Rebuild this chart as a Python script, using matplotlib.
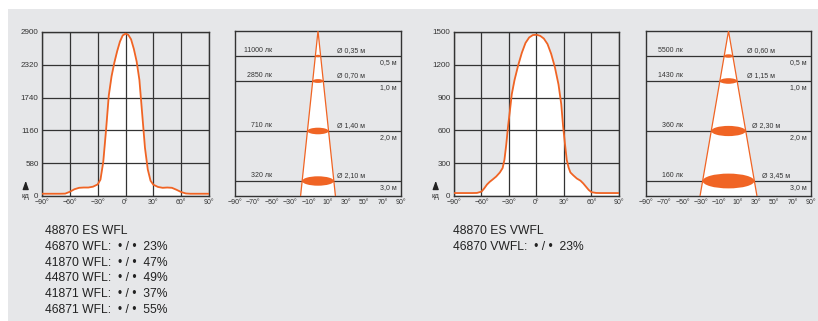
import numpy as np
import matplotlib.pyplot as plt
from matplotlib.patches import Ellipse, Polygon, Rectangle

# light intensity curves (angle in degrees, intensity in cd)
ang_wfl = [-90, -80, -70, -65, -60, -55, -50, -45, -40, -35, -30, -27, -24, -21, -18, -15, -12, -9, -6, -3, 0,
           3, 6, 9, 12, 15, 18, 21, 24, 27, 30, 35, 40, 45, 50, 55, 60, 65, 70, 80, 90]
cd_wfl = [40, 40, 40, 42, 75, 120, 145, 150, 150, 165, 205, 290, 600, 1160, 1780, 2120, 2360, 2560, 2730, 2840, 2870,
          2850, 2770, 2600, 2380, 2050, 1450, 850, 470, 270, 200, 160, 145, 150, 145, 110, 70, 45, 40, 40, 40]

ang_vwfl = [-90, -80, -70, -65, -60, -57, -54, -51, -48, -44, -40, -37, -35, -33, -31, -29, -27, -24, -20, -16, -12,
            -8, -4, 0, 4, 8, 12, 16, 20, 24, 27, 29, 31, 33, 35, 37, 40, 44, 48, 51, 54, 57, 60, 65, 70, 80, 90]
cd_vwfl = [27, 27, 27, 28, 40, 70, 105, 130, 150, 178, 215, 255, 330, 470, 640, 780, 930, 1060, 1195, 1310, 1400,
           1450, 1472, 1475, 1465, 1440, 1390, 1300, 1180, 1020, 840, 640, 480, 330, 260, 215, 190, 160, 140, 115,
           85, 55, 35, 28, 27, 27, 27]

yticks_wfl = [0, 580, 1160, 1740, 2320, 2900]
yticks_vwfl = [0, 300, 600, 900, 1200, 1500]
xticks_curve = [-90, -60, -30, 0, 30, 60, 90]

# cone diagrams
dist = [0.5, 1.0, 2.0, 3.0]
lux_wfl = [11000, 2850, 710, 320]
diam_wfl = [0.35, 0.70, 1.40, 2.10]
lux_vwfl = [5500, 1430, 360, 160]
diam_vwfl = [0.60, 1.15, 2.30, 3.45]
cone_xlabels = ['\u221290\u00b0', '\u221270\u00b0', '\u221250\u00b0', '\u221230\u00b0', '\u221210\u00b0',
                '10\u00b0', '30\u00b0', '50\u00b0', '70\u00b0', '90\u00b0']

text_wfl = ['48870 ES WFL', '46870 WFL:  \u2022 / \u2022  23%', '41870 WFL:  \u2022 / \u2022  47%',
            '44870 WFL:  \u2022 / \u2022  49%', '41871 WFL:  \u2022 / \u2022  37%', '46871 WFL:  \u2022 / \u2022  55%']
text_vwfl = ['48870 ES VWFL', '46870 VWFL:  \u2022 / \u2022  23%']

ORANGE = '#f06424'
BG = '#e6e7e9'
LINE = '#333333'
NARROW = ['Liberation Sans Narrow', 'Liberation Sans', 'DejaVu Sans']
plt.rcParams['font.family'] = ['Liberation Sans', 'DejaVu Sans']

W, H = 818, 321
fig = plt.figure(figsize=(W / 100, H / 100), dpi=100, facecolor='white')
fig.patches.append(Rectangle((8 / W, 0), 1, (H - 9) / H, transform=fig.transFigure,
                             facecolor=BG, edgecolor='none', zorder=-10))


def box(x0, x1, y0, y1):
    return [x0 / W, 1 - y1 / H, (x1 - x0) / W, (y1 - y0) / H]


def style(ax):
    ax.set_facecolor(BG)
    for s in ax.spines.values():
        s.set_color(LINE)
        s.set_linewidth(1.0)
    ax.tick_params(length=0, pad=2.5, colors='#333333')
    ax.tick_params(axis='x', labelsize=5)
    ax.tick_params(axis='y', labelsize=5.8)
    for lab in ax.get_xticklabels() + ax.get_yticklabels():
        lab.set_family(NARROW)


def curve(rect, ang, cd, yticks, arrow_x):
    ax = fig.add_axes(rect)
    ax.fill_between(ang, 0, cd, color='white', lw=0, zorder=1)
    ax.plot(ang, cd, color=ORANGE, lw=1.3, zorder=3)
    ax.set_xlim(-90, 90)
    ax.set_ylim(0, yticks[-1])
    ax.set_xticks(xticks_curve)
    ax.set_xticklabels([(('\u2212' if t < 0 else '') + '%d\u00b0' % abs(t)) for t in xticks_curve])
    ax.set_yticks(yticks)
    ax.grid(True, color=LINE, lw=0.9, zorder=2)
    style(ax)
    fig.text(arrow_x / W, 1 - 197 / H, '\u043a\u0434', fontsize=5.5, family=NARROW, ha='center', va='center',
             color='#333333')
    ax.annotate('', xy=(arrow_x / W, 1 - 178 / H), xytext=(arrow_x / W, 1 - 191 / H),
                xycoords='figure fraction', textcoords='figure fraction',
                arrowprops=dict(arrowstyle='-|>,head_length=0.5,head_width=0.18', color='#222222', lw=0.9))
    return ax


def fmt(v, nd):
    return ('%.*f' % (nd, v)).replace('.', ',')


def cone(rect, lux, diam, dx_right):
    ax = fig.add_axes(rect)
    xmax = 5.5
    ymax = 3.3
    ax.set_xlim(-xmax, xmax)
    ax.set_ylim(ymax, 0)
    k = diam[-1] / dist[-1] / 2
    ax.add_patch(Polygon([(0, 0), (-k * ymax, ymax), (k * ymax, ymax)], closed=True,
                         facecolor='white', edgecolor='none', zorder=1))
    ax.plot([-k * ymax, 0, k * ymax], [ymax, 0, ymax], color=ORANGE, lw=0.9, zorder=3)
    for i, d in enumerate(dist):
        ax.axhline(d, color=LINE, lw=0.9, zorder=2)
        ax.add_patch(Ellipse((0, d), diam[i], 0.08 * diam[i] + 0.02, facecolor=ORANGE,
                             edgecolor='none', zorder=4))
        ax.text(-3.05, d - 0.04, '%d \u043b\u043a' % lux[i], fontsize=5, family=NARROW,
                ha='right', va='bottom', color='#333333')
        ax.text(dx_right[i], d - 0.04, '\u00d8 %s \u043c' % fmt(diam[i], 2), fontsize=5, family=NARROW,
                ha='left', va='bottom', color='#333333')
        ax.text(xmax - 0.27, d + 0.13, '%s \u043c' % fmt(d, 1), fontsize=5, family=NARROW,
                ha='right', va='center', color='#333333')
    ax.set_xticks(np.linspace(-xmax, xmax, 10))
    ax.set_xticklabels(cone_xlabels)
    ax.set_yticks([])
    style(ax)
    return ax


curve(box(42, 209, 32, 196), ang_wfl, cd_wfl, yticks_wfl, 25.7)
cone(box(235, 401, 31, 196), lux_wfl, diam_wfl, [1.26, 1.26, 1.26, 1.26])
curve(box(454, 619, 32, 196), ang_vwfl, cd_vwfl, yticks_vwfl, 435.7)
cone(box(646, 811, 31, 196), lux_vwfl, diam_vwfl, [1.22, 1.22, 1.55, 2.2])

for i, t in enumerate(text_wfl):
    fig.text(45 / W, 1 - (231 + 15.8 * i) / H, t, fontsize=8.7, ha='left', va='center', color='#222222')
for i, t in enumerate(text_vwfl):
    fig.text(453 / W, 1 - (231 + 15.8 * i) / H, t, fontsize=8.7, ha='left', va='center', color='#222222')

fig.savefig('out.png', dpi=100, facecolor='white')
